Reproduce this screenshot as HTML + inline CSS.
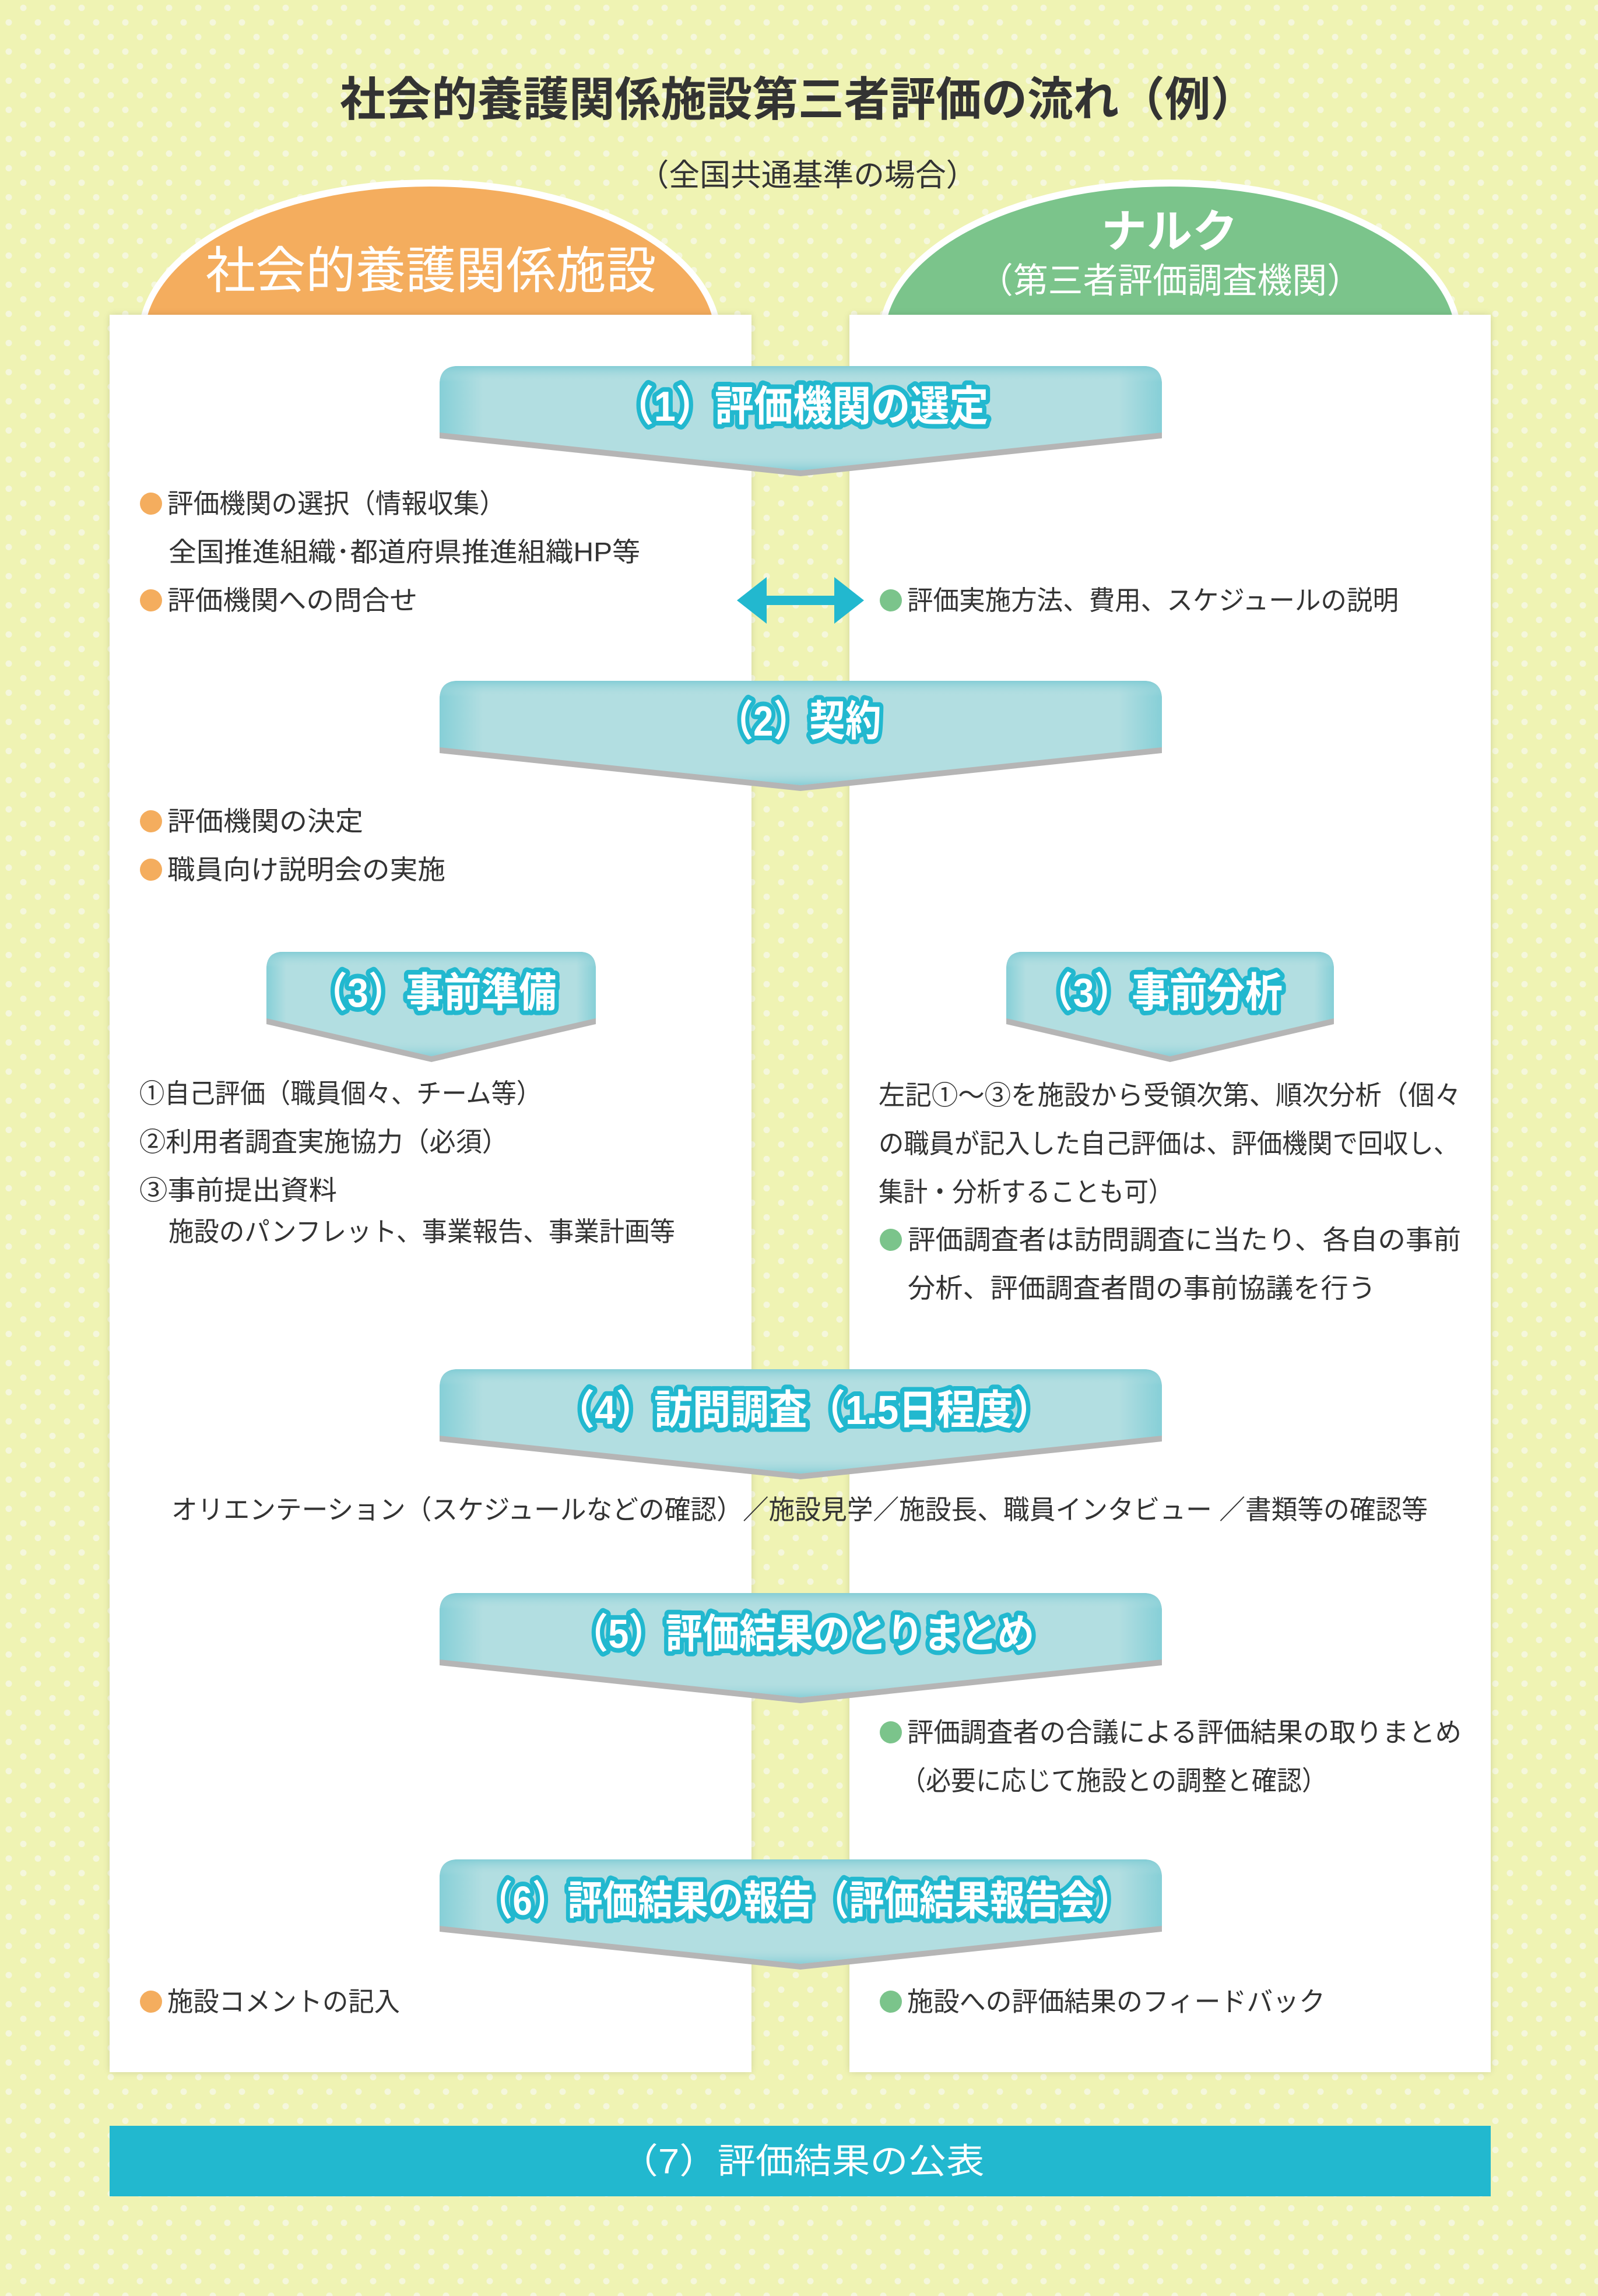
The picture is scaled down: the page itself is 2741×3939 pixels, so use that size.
<!DOCTYPE html>
<html><head><meta charset="utf-8"><style>
html,body{margin:0;padding:0;background:#eff3b3}
svg{display:block}
text{font-family:"Liberation Sans","Noto Sans CJK JP",sans-serif}
.b{font-size:46px;fill:#333;dominant-baseline:central}
.bn{font-weight:bold;fill:#fff;stroke:#22b8cf;stroke-width:16px;stroke-linejoin:round;paint-order:stroke fill;dominant-baseline:central;text-anchor:middle}
</style></head><body>
<svg width="2741" height="3939" viewBox="0 0 2741 3939" xmlns="http://www.w3.org/2000/svg">
<defs>
<pattern id="dots" width="50" height="50" patternUnits="userSpaceOnUse">
<circle cx="40" cy="13.5" r="5.5" fill="#f5f7dc"/>
<circle cx="15" cy="38.5" r="5.5" fill="#f5f7dc"/>
</pattern>
<linearGradient id="gh" x1="0" x2="1" y1="0" y2="0">
<stop offset="0" stop-color="#86cfd7"/><stop offset="0.06" stop-color="#b2dee1"/><stop offset="0.94" stop-color="#b2dee1"/><stop offset="1" stop-color="#86cfd7"/>
</linearGradient>
<linearGradient id="gv" x1="0" x2="0" y1="0" y2="1">
<stop offset="0" stop-color="#7fcbd4" stop-opacity="0.9"/><stop offset="0.15" stop-color="#b2dee1" stop-opacity="0"/><stop offset="0.85" stop-color="#b2dee1" stop-opacity="0"/><stop offset="1" stop-color="#7fcbd4" stop-opacity="0.8"/>
</linearGradient>
<filter id="sh" x="-5%" y="-5%" width="110%" height="110%"><feGaussianBlur stdDeviation="6"/></filter>
</defs>
<rect width="2741" height="3939" fill="#eff3b3"/>
<rect width="2741" height="3939" fill="url(#dots)"/>

<text x="1369" y="171" font-size="80" font-weight="bold" fill="#333" text-anchor="middle" dominant-baseline="central" textLength="1572" lengthAdjust="spacingAndGlyphs">社会的養護関係施設第三者評価の流れ（例）</text>
<text x="1385" y="301" font-size="53" fill="#333" text-anchor="middle" dominant-baseline="central" textLength="581" lengthAdjust="spacingAndGlyphs">（全国共通基準の場合）</text>

<!-- domes -->
<ellipse cx="737" cy="580" rx="500" ry="272" fill="#fff"/>
<ellipse cx="737" cy="582" rx="490" ry="262" fill="#f4ad5e"/>
<ellipse cx="2007" cy="580" rx="500" ry="272" fill="#fff"/>
<ellipse cx="2007" cy="582" rx="490" ry="262" fill="#7bc48b"/>
<text x="739" y="465" font-size="86" fill="#fff" text-anchor="middle" dominant-baseline="central" textLength="773" lengthAdjust="spacingAndGlyphs">社会的養護関係施設</text>
<text x="2006" y="397" font-size="78" font-weight="bold" fill="#fff" text-anchor="middle" dominant-baseline="central" textLength="234" lengthAdjust="spacingAndGlyphs">ナルク</text>
<text x="2007" y="482" font-size="60" fill="#fff" text-anchor="middle" dominant-baseline="central" textLength="658" lengthAdjust="spacingAndGlyphs">（第三者評価調査機関）</text>

<!-- panels -->
<rect x="188" y="540" width="1101" height="3015" fill="#000" opacity="0.12" filter="url(#sh)"/>
<rect x="1457" y="540" width="1100" height="3015" fill="#000" opacity="0.12" filter="url(#sh)"/>
<rect x="188" y="540" width="1101" height="3015" fill="#fff"/>
<rect x="1457" y="540" width="1100" height="3015" fill="#fff"/>

<!-- banners -->
<g id="banners">
<!-- (1) -->
<path d="M754,660 Q754,628 786,628 H1961 Q1993,628 1993,660 V752 L1373,817 L754,752 Z" fill="#b5b5b5"/>
<path d="M754,660 Q754,628 786,628 H1961 Q1993,628 1993,660 V742 L1373,807 L754,742 Z" fill="url(#gh)"/>
<path d="M754,660 Q754,628 786,628 H1961 Q1993,628 1993,660 V742 L1373,807 L754,742 Z" fill="url(#gv)"/>
<!-- (2) -->
<path d="M754,1200 Q754,1168 786,1168 H1961 Q1993,1168 1993,1200 V1292 L1373,1357 L754,1292 Z" fill="#b5b5b5"/>
<path d="M754,1200 Q754,1168 786,1168 H1961 Q1993,1168 1993,1200 V1282 L1373,1347 L754,1282 Z" fill="url(#gh)"/>
<path d="M754,1200 Q754,1168 786,1168 H1961 Q1993,1168 1993,1200 V1282 L1373,1347 L754,1282 Z" fill="url(#gv)"/>
<!-- (3) L -->
<path d="M457,1663 Q457,1633 485,1633 H994 Q1022,1633 1022,1663 V1757 L740,1822 L457,1757 Z" fill="#b5b5b5"/>
<path d="M457,1663 Q457,1633 485,1633 H994 Q1022,1633 1022,1663 V1747 L740,1812 L457,1747 Z" fill="url(#gh)"/>
<path d="M457,1663 Q457,1633 485,1633 H994 Q1022,1633 1022,1663 V1747 L740,1812 L457,1747 Z" fill="url(#gv)"/>
<!-- (3) R -->
<path d="M1726,1663 Q1726,1633 1754,1633 H2260 Q2288,1633 2288,1663 V1757 L2007,1822 L1726,1757 Z" fill="#b5b5b5"/>
<path d="M1726,1663 Q1726,1633 1754,1633 H2260 Q2288,1633 2288,1663 V1747 L2007,1812 L1726,1747 Z" fill="url(#gh)"/>
<path d="M1726,1663 Q1726,1633 1754,1633 H2260 Q2288,1633 2288,1663 V1747 L2007,1812 L1726,1747 Z" fill="url(#gv)"/>
<!-- (4) -->
<path d="M754,2381 Q754,2349 786,2349 H1961 Q1993,2349 1993,2381 V2473 L1373,2538 L754,2473 Z" fill="#b5b5b5"/>
<path d="M754,2381 Q754,2349 786,2349 H1961 Q1993,2349 1993,2381 V2463 L1373,2528 L754,2463 Z" fill="url(#gh)"/>
<path d="M754,2381 Q754,2349 786,2349 H1961 Q1993,2349 1993,2381 V2463 L1373,2528 L754,2463 Z" fill="url(#gv)"/>
<!-- (5) -->
<path d="M754,2765 Q754,2733 786,2733 H1961 Q1993,2733 1993,2765 V2857 L1373,2922 L754,2857 Z" fill="#b5b5b5"/>
<path d="M754,2765 Q754,2733 786,2733 H1961 Q1993,2733 1993,2765 V2847 L1373,2912 L754,2847 Z" fill="url(#gh)"/>
<path d="M754,2765 Q754,2733 786,2733 H1961 Q1993,2733 1993,2765 V2847 L1373,2912 L754,2847 Z" fill="url(#gv)"/>
<!-- (6) -->
<path d="M754,3222 Q754,3190 786,3190 H1961 Q1993,3190 1993,3222 V3314 L1373,3379 L754,3314 Z" fill="#b5b5b5"/>
<path d="M754,3222 Q754,3190 786,3190 H1961 Q1993,3190 1993,3222 V3304 L1373,3369 L754,3304 Z" fill="url(#gh)"/>
<path d="M754,3222 Q754,3190 786,3190 H1961 Q1993,3190 1993,3222 V3304 L1373,3369 L754,3304 Z" fill="url(#gv)"/>
</g>

<text class="bn" x="1375" y="698" font-size="72" textLength="641" lengthAdjust="spacingAndGlyphs">（1）評価機関の選定</text>
<text class="bn" x="1371" y="1238" font-size="72" textLength="281" lengthAdjust="spacingAndGlyphs">（2）契約</text>
<text class="bn" x="743" y="1703" font-size="70" textLength="423" lengthAdjust="spacingAndGlyphs">（3）事前準備</text>
<text class="bn" x="1988" y="1703" font-size="70" textLength="424" lengthAdjust="spacingAndGlyphs">（3）事前分析</text>
<text class="bn" x="1379" y="2419" font-size="70" textLength="849" lengthAdjust="spacingAndGlyphs">（4）訪問調査（1.5日程度）</text>
<text class="bn" x="1377" y="2803" font-size="70" textLength="794" lengthAdjust="spacingAndGlyphs">（5）評価結果のとりまとめ</text>
<text class="bn" x="1379" y="3261" font-size="70" textLength="1120" lengthAdjust="spacingAndGlyphs">（6）評価結果の報告（評価結果報告会）</text>

<!-- arrow -->
<g fill="#22b8cf">
<rect x="1300" y="1022" width="146" height="16"/>
<polygon points="1264,1030 1315,990 1315,1070"/>
<polygon points="1482,1030 1431,990 1431,1070"/>
</g>

<!-- bullets -->
<g>
<circle cx="259" cy="864" r="19" fill="#f4ad5e"/>
<circle cx="259" cy="1030" r="19" fill="#f4ad5e"/>
<circle cx="259" cy="1409" r="19" fill="#f4ad5e"/>
<circle cx="259" cy="1492" r="19" fill="#f4ad5e"/>
<circle cx="259" cy="3434" r="19" fill="#f4ad5e"/>
<circle cx="1528" cy="1030" r="19" fill="#7bc48b"/>
<circle cx="1528" cy="2127" r="19" fill="#7bc48b"/>
<circle cx="1528" cy="2972" r="19" fill="#7bc48b"/>
<circle cx="1528" cy="3434" r="19" fill="#7bc48b"/>
</g>

<text class="b" x="287" y="864" textLength="580" lengthAdjust="spacingAndGlyphs">評価機関の選択（情報収集）</text>
<text class="b" x="289" y="947" textLength="809" lengthAdjust="spacingAndGlyphs">全国推進組織･都道府県推進組織HP等</text>
<text class="b" x="287" y="1030" textLength="429" lengthAdjust="spacingAndGlyphs">評価機関への問合せ</text>
<text class="b" x="1556" y="1030" textLength="843" lengthAdjust="spacingAndGlyphs">評価実施方法、費用、スケジュールの説明</text>
<text class="b" x="287" y="1409" textLength="336" lengthAdjust="spacingAndGlyphs">評価機関の決定</text>
<text class="b" x="287" y="1492" textLength="477" lengthAdjust="spacingAndGlyphs">職員向け説明会の実施</text>

<text class="b" x="239" y="1876" textLength="690" lengthAdjust="spacingAndGlyphs">①自己評価（職員個々、チーム等）</text>
<text class="b" x="239" y="1959" textLength="633" lengthAdjust="spacingAndGlyphs">②利用者調査実施協力（必須）</text>
<text class="b" x="239" y="2042" textLength="339" lengthAdjust="spacingAndGlyphs">③事前提出資料</text>
<text class="b" x="289" y="2113" textLength="869" lengthAdjust="spacingAndGlyphs">施設のパンフレット、事業報告、事業計画等</text>

<text class="b" x="1507" y="1879" textLength="999" lengthAdjust="spacingAndGlyphs">左記①～③を施設から受領次第、順次分析（個々</text>
<text class="b" x="1507" y="1962" textLength="995" lengthAdjust="spacingAndGlyphs">の職員が記入した自己評価は、評価機関で回収し、</text>
<text class="b" x="1507" y="2045" textLength="505" lengthAdjust="spacingAndGlyphs">集計・分析することも可）</text>
<text class="b" x="1557" y="2127" textLength="949" lengthAdjust="spacingAndGlyphs">評価調査者は訪問調査に当たり、各自の事前</text>
<text class="b" x="1557" y="2210" textLength="803" lengthAdjust="spacingAndGlyphs">分析、評価調査者間の事前協議を行う</text>

<text class="b" x="294" y="2590" textLength="2155" lengthAdjust="spacingAndGlyphs">オリエンテーション（スケジュールなどの確認）／施設見学／施設長、職員インタビュー ／書類等の確認等</text>

<text class="b" x="1556" y="2972" textLength="951" lengthAdjust="spacingAndGlyphs">評価調査者の合議による評価結果の取りまとめ</text>
<text class="b" x="1545" y="3055" textLength="731" lengthAdjust="spacingAndGlyphs">（必要に応じて施設との調整と確認）</text>

<text class="b" x="287" y="3434" textLength="399" lengthAdjust="spacingAndGlyphs">施設コメントの記入</text>
<text class="b" x="1556" y="3434" textLength="717" lengthAdjust="spacingAndGlyphs">施設への評価結果のフィードバック</text>

<!-- (7) -->
<rect x="188" y="3647" width="2369" height="121" fill="#22b8cf"/>
<text x="1376" y="3708" font-size="60" fill="#fff" text-anchor="middle" dominant-baseline="central" textLength="625" lengthAdjust="spacingAndGlyphs">（7）評価結果の公表</text>
</svg>
</body></html>
